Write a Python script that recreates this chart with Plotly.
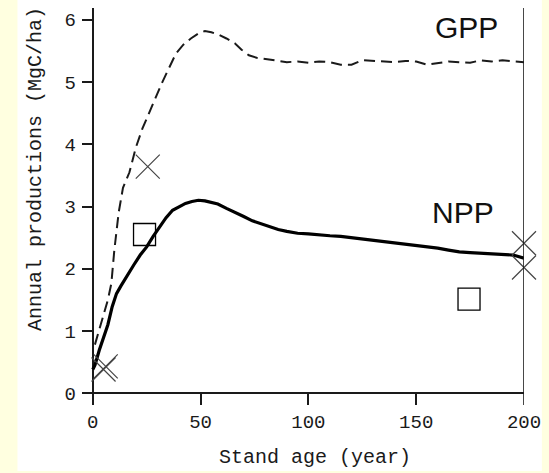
import plotly.graph_objects as go

# GPP (dashed) curve
gpp_age = [1, 3, 5, 7, 8.6, 10, 12, 14, 17, 20, 23, 26, 29, 32, 35, 38.6, 42, 45.5, 49, 52, 55, 58.5, 62, 66, 69, 72.4, 76, 80, 85, 90, 95, 100,
           105, 110, 115, 120, 125, 130, 135, 140, 145, 150, 155, 160, 165, 170, 175, 180, 185, 190, 195, 200]
gpp_val = [0.78, 1.02, 1.25, 1.5, 1.76, 2.3, 2.9, 3.3, 3.55, 3.95, 4.25, 4.5, 4.75, 4.98, 5.2, 5.46, 5.6, 5.70, 5.78, 5.82, 5.80, 5.76, 5.70, 5.62, 5.52, 5.43, 5.39, 5.37, 5.34, 5.32, 5.33, 5.31,
           5.33, 5.32, 5.28, 5.28, 5.35, 5.34, 5.33, 5.32, 5.34, 5.33, 5.28, 5.30, 5.33, 5.32, 5.31, 5.35, 5.33, 5.35, 5.33, 5.32]

# NPP (solid) curve
npp_age = [0, 1, 3, 5, 7, 9, 11, 13, 16, 19, 22, 25, 28, 31, 34, 37, 40, 43, 46, 49, 52, 55, 58, 62, 66, 70, 74, 78, 82, 86, 90,
           95, 100, 105, 110, 115, 120, 125, 130, 135, 140, 145, 150, 155, 160, 165, 170, 175, 180, 185, 190, 195, 200]
npp_val = [0.38, 0.45, 0.69, 0.9, 1.1, 1.39, 1.6, 1.72, 1.9, 2.06, 2.22, 2.35, 2.52, 2.68, 2.82, 2.94, 3.0, 3.05, 3.08, 3.10, 3.09, 3.07, 3.04, 2.97, 2.91, 2.84, 2.77, 2.72, 2.67, 2.63, 2.60,
           2.57, 2.56, 2.54, 2.53, 2.52, 2.50, 2.47, 2.46, 2.44, 2.42, 2.40, 2.38, 2.36, 2.33, 2.30, 2.27, 2.26, 2.25, 2.24, 2.23, 2.22, 2.17]

# Observations
obs_x_age = [25.5, 5, 6, 200, 200]
obs_x_val = [3.64, 0.38, 0.43, 2.41, 2.02]
obs_sq_age = [24, 174.5]
obs_sq_val = [2.55, 1.51]

x_ticks = [0, 50, 100, 150, 200]
y_ticks = [0, 1, 2, 3, 4, 5, 6]

INK = "#1a1a1a"
MONO = "Liberation Mono, DejaVu Sans Mono, monospace"

fig = go.Figure()
fig.add_trace(go.Scatter(x=gpp_age, y=gpp_val, mode="lines",
                         line=dict(color=INK, width=2, dash="11px,6px"), showlegend=False))
fig.add_trace(go.Scatter(x=npp_age, y=npp_val, mode="lines",
                         line=dict(color="#000000", width=3.2), showlegend=False))
fig.add_trace(go.Scatter(x=obs_x_age, y=obs_x_val, mode="markers", cliponaxis=False,
                         marker=dict(symbol="x-thin-open", size=24, color="#444444",
                                     line=dict(color="#444444", width=1.2)),
                         showlegend=False))
fig.add_trace(go.Scatter(x=obs_sq_age, y=obs_sq_val, mode="markers", cliponaxis=False,
                         marker=dict(symbol="square-open", size=22, color="#000000", line=dict(color="#000000", width=1.3)),
                         showlegend=False))

fig.update_layout(
    width=549, height=473,
    margin=dict(l=82, r=22, t=8, b=68),
    paper_bgcolor="#FFFFE0",
    plot_bgcolor="#FFFFFF",
    font=dict(family=MONO, color=INK),
    xaxis=dict(range=[-5, 200], tickvals=x_ticks, ticks="inside", ticklen=11, tickwidth=1.6, tickcolor=INK,
               showgrid=False, zeroline=True, zerolinecolor=INK, zerolinewidth=1.8, showline=False,
               ticklabelstandoff=3,
               tickfont=dict(family=MONO, size=19, color=INK)),
    yaxis=dict(range=[-0.19, 6.19], tickvals=y_ticks, ticks="inside", ticklen=11, tickwidth=1.6, tickcolor=INK,
               showgrid=False, zeroline=True, zerolinecolor=INK, zerolinewidth=1.8, showline=False,
               ticklabelstandoff=5,
               tickfont=dict(family=MONO, size=19, color=INK)),
    shapes=[
        dict(type="rect", xref="paper", yref="paper", x0=-0.146, x1=1.0404, y0=-0.166, y1=1.03,
             fillcolor="#FFFFFF", line=dict(width=0), layer="below"),
        dict(type="line", xref="x", yref="paper", x0=200, x1=200, y0=0, y1=1,
             line=dict(color=INK, width=1.6)),
    ],
    annotations=[
        dict(text="Stand age (year)", xref="paper", yref="paper", x=0.528, y=-0.131,
             xanchor="center", yanchor="middle", showarrow=False, font=dict(family=MONO, size=20, color=INK)),
        dict(text="Annual productions (MgC/ha)", xref="paper", yref="paper", x=-0.1056, y=0.595,
             xanchor="center", yanchor="middle", textangle=-90, showarrow=False,
             font=dict(family=MONO, size=20, color=INK)),
        dict(text="GPP", xref="x", yref="y", x=173.3, y=5.87, xanchor="center", yanchor="middle",
             showarrow=False, font=dict(family="Liberation Sans, Arial, sans-serif", size=30, color="#111111")),
        dict(text="NPP", xref="x", yref="y", x=171.9, y=2.91, xanchor="center", yanchor="middle",
             showarrow=False, font=dict(family="Liberation Sans, Arial, sans-serif", size=30, color="#111111")),
    ],
)

fig.write_html("out.html")
